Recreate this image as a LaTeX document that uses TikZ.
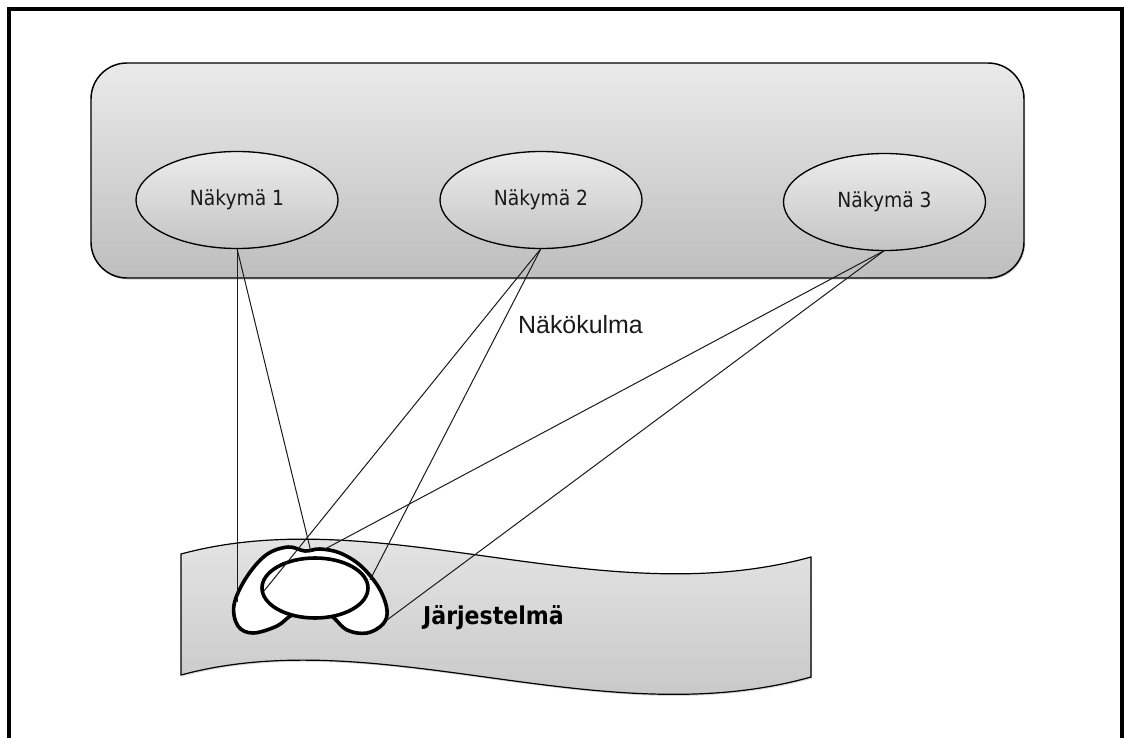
\documentclass[tikz,border=0pt]{standalone}
\usepackage{fontspec}
\usetikzlibrary{shapes.geometric,shadows}
\newfontfamily\labelfont[FakeStretch=0.9]{DejaVu Sans}
\newfontfamily\capfont{Liberation Sans}
\definecolor{panelTop}{HTML}{EAEAEA}
\definecolor{panelBot}{HTML}{BEBEBE}
\definecolor{ovalTop}{HTML}{ECECEC}
\definecolor{ovalBot}{HTML}{C4C4C4}
\definecolor{waveTop}{HTML}{EAEAEA}
\definecolor{waveBot}{HTML}{C2C2C2}
\definecolor{inkgray}{HTML}{1A1A1A}
\begin{document}
\begin{tikzpicture}[x=0.75pt,y=-0.75pt,
  panel/.style={draw=black, line width=1.1pt, rounded corners=27pt,
    top color=panelTop, bottom color=panelBot,
    drop shadow={shadow xshift=0.8pt, shadow yshift=-1.2pt, opacity=0.35},
    minimum width=699.75pt, minimum height=161.25pt, inner sep=0pt, outer sep=0pt},
  viewoval/.style={ellipse, draw=black, line width=1pt,
    top color=ovalTop, bottom color=ovalBot,
    minimum width=151.5pt, minimum height=72.75pt, inner sep=0pt, outer sep=0pt,
    font=\labelfont\fontsize{15.6}{18}\selectfont, text=inkgray},
  sight/.style={draw=inkgray, line width=0.75pt},
  blob/.style={draw=black, line width=2.7pt, fill=white, line join=round}
]
\useasboundingbox (0,0) rectangle (1124,738);

% outer frame (open at the bottom edge)
\draw[line width=2.3pt] (9,760) -- (9,9) -- (1122,9) -- (1122,760);

% panel holding the three views
\node[panel] (views) at (557.5,170.5) {};
\node[viewoval] (v1) at (237,200) {Näkymä 1};
\node[viewoval] (v2) at (541,200) {Näkymä 2};
\node[viewoval] (v3) at (884.5,202) {Näkymä 3};

% the system: a waving banner
\path[draw=black, line width=0.9pt, top color=waveTop, bottom color=waveBot,
  drop shadow={shadow xshift=0.8pt, shadow yshift=-1.2pt, opacity=0.3}]
  (181,554) .. controls (380,500) and (600,615) .. (811,557)
  -- (811,677) .. controls (600,736) and (380,621) .. (181,675) -- cycle;
\node[font=\labelfont\bfseries\fontsize{18.4}{22}\selectfont, text=black,
  anchor=base] (sys) at (493.5,624) {Järjestelmä};

% system symbol: two lobes with a core ellipse on top
\draw[blob] plot[smooth cycle, tension=0.6] coordinates {
  (305,551) (288,547) (266,555) (246,578) (234,605) (238,626) (253,633)
  (277,626) (292,615) (311,610) (330,615) (347,630) (367,633) (383,624)
  (387,610) (379,588) (361,566) (340,553) (320,549)};
\node[blob, ellipse, minimum width=79.5pt, minimum height=45pt,
  inner sep=0pt, outer sep=0pt] (core) at (315,588) {};

% points where the lines of sight meet the system
\coordinate (t1a) at (237,602);
\coordinate (t1b) at (311,552);
\coordinate (t2a) at (264,591);
\coordinate (t2b) at (370,580);
\coordinate (t3a) at (325,549);
\coordinate (t3b) at (387,620);

\draw[sight] (v1.south) -- (t1a);
\draw[sight] (v1.south) -- (t1b);
\draw[sight] (v2.south) -- (t2a);
\draw[sight] (v2.south) -- (t2b);
\draw[sight] (v3.south) -- (t3a);
\draw[sight] (v3.south) -- (t3b);

\node[font=\capfont\fontsize{18.7}{22}\selectfont, text=inkgray, anchor=base]
  (angle) at (580.5,333) {Näkökulma};
\end{tikzpicture}
\end{document}
